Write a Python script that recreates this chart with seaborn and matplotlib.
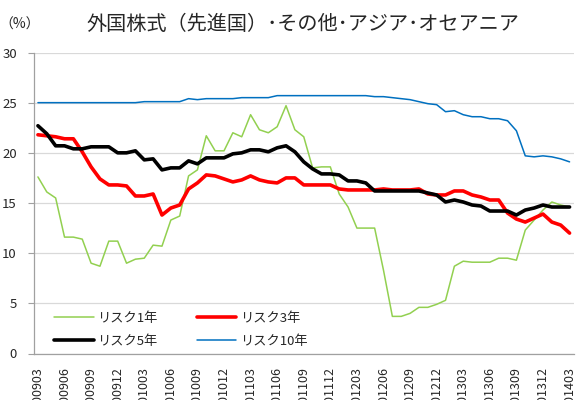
import numpy as np
import pandas as pd
import matplotlib
matplotlib.use("Agg")
import matplotlib.pyplot as plt
import seaborn as sns

# ---- data ----
title = "外国株式（先進国）･その他･アジア･オセアニア"
series_names = ["リスク1年", "リスク3年", "リスク5年", "リスク10年"]
tick_labels = ["200903", "200906", "200909", "200912", "201003", "201006", "201009",
               "201012", "201103", "201106", "201109", "201112", "201203", "201206",
               "201209", "201212", "201303", "201306", "201309", "201312", "201403"]

risk1 = [17.6, 16.1, 15.5, 11.6, 11.6, 11.4, 9.0, 8.7, 11.2, 11.2,
         9.0, 9.4, 9.5, 10.8, 10.7, 13.3, 13.7, 17.7, 18.3, 21.7,
         20.2, 20.2, 22.0, 21.6, 23.8, 22.3, 22.0, 22.6, 24.7, 22.3,
         21.6, 18.5, 18.6, 18.6, 15.9, 14.6, 12.5, 12.5, 12.5, 8.3,
         3.7, 3.7, 4.0, 4.6, 4.6, 4.9, 5.3, 8.7, 9.2, 9.1,
         9.1, 9.1, 9.5, 9.5, 9.3, 12.3, 13.3, 14.3, 15.1, 14.8,
         14.6]
risk3 = [21.8, 21.7, 21.6, 21.4, 21.4, 20.1, 18.6, 17.4, 16.8, 16.8,
         16.7, 15.7, 15.7, 15.9, 13.8, 14.5, 14.8, 16.4, 17.0, 17.8,
         17.7, 17.4, 17.1, 17.3, 17.7, 17.3, 17.1, 17.0, 17.5, 17.5,
         16.8, 16.8, 16.8, 16.8, 16.4, 16.3, 16.3, 16.3, 16.3, 16.4,
         16.3, 16.3, 16.3, 16.4, 15.9, 15.8, 15.8, 16.2, 16.2, 15.8,
         15.6, 15.3, 15.3, 14.0, 13.4, 13.1, 13.5, 13.9, 13.1, 12.8,
         12.0]
risk5 = [22.7, 21.9, 20.7, 20.7, 20.4, 20.4, 20.6, 20.6, 20.6, 20.0,
         20.0, 20.2, 19.3, 19.4, 18.3, 18.5, 18.5, 19.2, 18.9, 19.5,
         19.5, 19.5, 19.9, 20.0, 20.3, 20.3, 20.1, 20.5, 20.7, 20.1,
         19.1, 18.4, 17.9, 17.9, 17.8, 17.2, 17.2, 17.0, 16.2, 16.2,
         16.2, 16.2, 16.2, 16.2, 16.0, 15.8, 15.1, 15.3, 15.1, 14.8,
         14.7, 14.2, 14.2, 14.2, 13.8, 14.3, 14.5, 14.8, 14.6, 14.6,
         14.6]
risk10 = [25.0, 25.0, 25.0, 25.0, 25.0, 25.0, 25.0, 25.0, 25.0, 25.0,
          25.0, 25.0, 25.1, 25.1, 25.1, 25.1, 25.1, 25.4, 25.3, 25.4,
          25.4, 25.4, 25.4, 25.5, 25.5, 25.5, 25.5, 25.7, 25.7, 25.7,
          25.7, 25.7, 25.7, 25.7, 25.7, 25.7, 25.7, 25.7, 25.6, 25.6,
          25.5, 25.4, 25.3, 25.1, 24.9, 24.8, 24.1, 24.2, 23.8, 23.6,
          23.6, 23.4, 23.4, 23.2, 22.2, 19.7, 19.6, 19.7, 19.6, 19.4,
          19.1]

# ---- style ----
sns.set_theme(style="white")
plt.rcParams["font.family"] = ["Noto Sans CJK JP", "DejaVu Sans"]

n = len(risk1)
idx = np.arange(n)
df = pd.DataFrame({"idx": idx, series_names[0]: risk1, series_names[1]: risk3,
                   series_names[2]: risk5, series_names[3]: risk10})
long = df.melt(id_vars="idx", var_name="series", value_name="value")

colors = {series_names[0]: "#92D050", series_names[1]: "#FF0000",
          series_names[2]: "#000000", series_names[3]: "#0070C0"}
widths = {series_names[0]: 1.1, series_names[1]: 2.6,
          series_names[2]: 2.6, series_names[3]: 1.1}

fig = plt.figure(figsize=(5.77, 4.0), dpi=100)
ax = fig.add_axes([33.5 / 577, 1 - 353.5 / 400, (574 - 33.5) / 577, (353.5 - 52.5) / 400])

for name in series_names:
    sub = long[long["series"] == name]
    sns.lineplot(data=sub, x="idx", y="value", ax=ax, color=colors[name],
                 linewidth=widths[name], label=name, zorder=3)

ax.set_xlim(-0.5, n - 0.5)
ax.set_ylim(0, 30)
ax.set_yticks(np.arange(0, 31, 5))
ax.set_xticks(np.arange(0, n, 3))
ax.set_xticklabels(tick_labels, rotation=90, fontsize=9, va="top")
ax.tick_params(axis="y", labelsize=9.5, length=4, width=0.8, color="#A0A0A0",
               left=True, pad=8)
ax.tick_params(axis="x", length=0, pad=10)
ax.set_xlabel("")
ax.set_ylabel("")

ax.grid(axis="y", color="#D9D9D9", linewidth=0.9)
ax.grid(axis="x", visible=False)
ax.set_axisbelow(True)
for s in ["top", "right"]:
    ax.spines[s].set_visible(False)
ax.spines["left"].set_color("#A0A0A0")
ax.spines["bottom"].set_color("#A0A0A0")
ax.spines["left"].set_linewidth(0.9)
ax.spines["bottom"].set_linewidth(0.9)

# legend: rows (1年, 3年) / (5年, 10年)
handles, labels = ax.get_legend_handles_labels()
order = [0, 2, 1, 3]
leg = ax.legend([handles[i] for i in order], [labels[i] for i in order],
                loc="upper left", bbox_to_anchor=(0.038, 0.138), ncol=2,
                frameon=False, fontsize=9.5, handlelength=3.0, handletextpad=0.25,
                columnspacing=3.0, labelspacing=0.75, borderpad=0, borderaxespad=0)

fig.text(303 / 577, 1 - 24 / 400, title, ha="center", va="center", fontsize=14.5)
fig.text(20 / 577, 1 - 25 / 400, "（%）", ha="center", va="center", fontsize=10)

fig.savefig("out.png", dpi=100)
